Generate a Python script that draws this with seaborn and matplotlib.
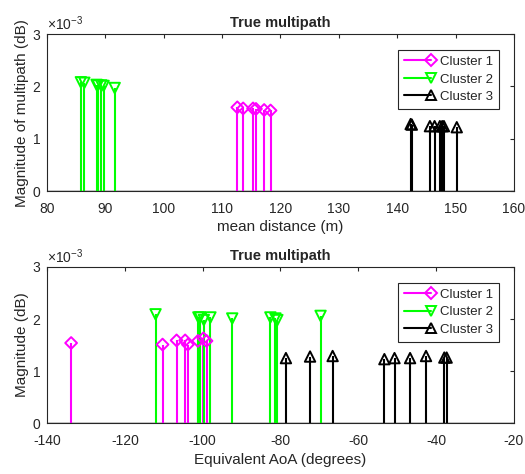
import numpy as np
import matplotlib
matplotlib.use("Agg")
import matplotlib.pyplot as plt
import pandas as pd
import seaborn as sns
from matplotlib.lines import Line2D
from matplotlib.legend_handler import HandlerLine2D

# Top panel: mean distance (m) vs magnitude (x1e-3)
dist_c1 = [112.6, 113.6, 115.3, 115.8, 117.2, 118.3]
mag_dist_c1 = [1.60, 1.58, 1.58, 1.57, 1.55, 1.54]
dist_c2 = [85.8, 86.4, 88.5, 88.7, 89.3, 89.7, 91.6]
mag_dist_c2 = [2.08, 2.07, 2.03, 2.02, 2.02, 2.01, 1.97]
dist_c3 = [142.3, 142.5, 145.6, 146.4, 147.3, 147.7, 148.0, 150.2]
mag_dist_c3 = [1.28, 1.27, 1.24, 1.24, 1.24, 1.24, 1.24, 1.22]

# Bottom panel: equivalent AoA (degrees) vs magnitude (x1e-3)
aoa_c1 = [-133.8, -110.3, -106.7, -104.5, -103.8, -101.2, -99.8, -99.0]
mag_aoa_c1 = [1.54, 1.51, 1.59, 1.59, 1.51, 1.58, 1.63, 1.58]
aoa_c2 = [-112.1, -101.1, -100.7, -99.7, -98.0, -92.4, -82.6, -81.3, -80.8, -69.7]
mag_aoa_c2 = [2.09, 2.03, 2.03, 1.98, 2.03, 2.01, 2.03, 2.01, 1.98, 2.06]
aoa_c3 = [-78.6, -72.4, -66.6, -53.3, -50.7, -46.7, -42.6, -37.9, -37.3]
mag_aoa_c3 = [1.25, 1.28, 1.29, 1.23, 1.25, 1.25, 1.29, 1.26, 1.26]

cluster_names = ["Cluster 1", "Cluster 2", "Cluster 3"]
colors = ["#FF00FF", "#00FF00", "#000000"]
markers = ["D", "v", "^"]
msizes = [6, 7.5, 7.5]

sns.set_style("white")
plt.rcParams["font.family"] = ["Liberation Sans", "DejaVu Sans"]
plt.rcParams["font.size"] = 10
plt.rcParams["axes.unicode_minus"] = False
plt.rcParams["mathtext.fontset"] = "custom"
plt.rcParams["mathtext.rm"] = "Liberation Sans"


class MarkerAtEnd(HandlerLine2D):
    # matlab style legend: marker sits at the right end of the line
    def create_artists(self, legend, orig_handle, xdescent, ydescent,
                       width, height, fontsize, trans):
        arts = super().create_artists(legend, orig_handle, xdescent, ydescent,
                                      width, height, fontsize, trans)
        for a in arts:
            n = len(a.get_xdata())
            a.set_markevery([n - 1])
        return arts


def stem_panel(ax, xs, ys):
    for i in range(3):
        df = pd.DataFrame({"x": xs[i], "y": np.array(ys[i]) * 1e-3})
        ax.vlines(df["x"], 0, df["y"], color=colors[i], linewidth=1.5, zorder=2)
        sns.scatterplot(data=df, x="x", y="y", ax=ax, marker=markers[i],
                        s=msizes[i] ** 2, facecolors="none", edgecolor=colors[i],
                        linewidth=1.4, zorder=3, legend=False)
    ax.axhline(0, color="black", linewidth=1, zorder=1)
    handles = [Line2D([0, 1], [0, 0], color=colors[i], marker=markers[i],
                      markersize=msizes[i], markerfacecolor="none",
                      markeredgecolor=colors[i], markeredgewidth=1.4,
                      linewidth=1.5, label=cluster_names[i])
               for i in range(3)]
    leg = ax.legend(handles=handles, loc="upper right", numpoints=1,
                    handler_map={Line2D: MarkerAtEnd()},
                    bbox_to_anchor=(0.968, 0.9), fancybox=False,
                    edgecolor="#262626", framealpha=1, fontsize=9.5,
                    handlelength=2.0, borderpad=0.45, labelspacing=0.4,
                    handletextpad=0.7, borderaxespad=0)
    leg.get_frame().set_linewidth(0.8)
    ax.set_ylim(0, 3e-3)
    ax.set_yticks([0, 1e-3, 2e-3, 3e-3])
    ax.ticklabel_format(axis="y", style="sci", scilimits=(0, 0), useMathText=True)
    ax.yaxis.get_offset_text().set_fontsize(10)
    ax.tick_params(direction="in", top=True, right=True, length=3,
                   width=0.8, labelsize=10, colors="#262626")
    ax.tick_params(axis="x", pad=8)
    ax.tick_params(axis="y", pad=4.5)
    for sp in ax.spines.values():
        sp.set_linewidth(0.8)
        sp.set_color("#262626")
    ax.set_title("True multipath", fontsize=10.5, fontweight="bold", pad=5)


fig = plt.figure(figsize=(5.25, 4.74), dpi=100)
ax1 = fig.add_axes([0.0895, 0.597, 0.8895, 0.331])
ax2 = fig.add_axes([0.0895, 0.107, 0.8895, 0.330])

stem_panel(ax1, [dist_c1, dist_c2, dist_c3], [mag_dist_c1, mag_dist_c2, mag_dist_c3])
ax1.set_xlim(80, 160)
ax1.set_xticks(np.arange(80, 161, 10))
ax1.set_xlabel("mean distance (m)", fontsize=11, labelpad=3)
ax1.set_ylabel("Magnitude of multipath (dB)", fontsize=11, labelpad=2)

stem_panel(ax2, [aoa_c1, aoa_c2, aoa_c3], [mag_aoa_c1, mag_aoa_c2, mag_aoa_c3])
ax2.set_xlim(-140, -20)
ax2.set_xticks(np.arange(-140, -19, 20))
ax2.set_xlabel("Equivalent AoA (degrees)", fontsize=11, labelpad=3)
ax2.set_ylabel("Magnitude (dB)", fontsize=11, labelpad=2)

fig.savefig("out.png", dpi=100)
